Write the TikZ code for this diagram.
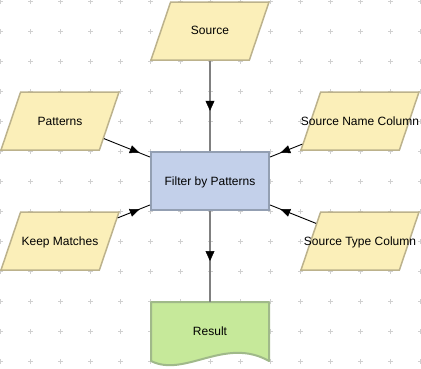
\documentclass[tikz,border=0pt]{standalone}
\usepackage{fontspec}
\setmainfont{Liberation Sans}
\usetikzlibrary{shapes.geometric,arrows.meta,decorations.markings}
\definecolor{inFill}{HTML}{FBEFB9}
\definecolor{inDraw}{HTML}{BCB28C}
\definecolor{opFill}{HTML}{C3D0EA}
\definecolor{opDraw}{HTML}{939FB2}
\definecolor{outFill}{HTML}{C6E99A}
\definecolor{outDraw}{HTML}{A0B98A}
\definecolor{gridc}{HTML}{D0D0D0}
\definecolor{flow}{HTML}{808080}
\begin{document}
\begin{tikzpicture}[x=1pt,y=-1pt,
  inshape/.style={trapezium, trapezium left angle=76, trapezium right angle=104,
    trapezium stretches=true, minimum width=118pt, minimum height=58pt,
    inner sep=2pt, fill=inFill, draw=inDraw, line width=1.5pt},
  opbox/.style={rectangle, minimum width=118pt, minimum height=58pt,
    fill=opFill, draw=opDraw, line width=2pt, inner sep=0pt,
    font=\fontsize{12pt}{14pt}\selectfont, text height=8.6pt, text depth=0pt},
  outbox/.style={rectangle, minimum width=118pt, minimum height=58pt, inner sep=0pt,
    font=\fontsize{12pt}{14pt}\selectfont, text height=8.6pt, text depth=0pt},
  txt/.style={font=\fontsize{12pt}{14pt}\selectfont, text=black, inner sep=0pt,
    text height=8.6pt, text depth=0pt},
  inarrow/.style={draw=black, line width=0.9pt, postaction={decorate},
    decoration={markings, mark=at position -11pt with
      {\arrow{Triangle[length=10pt,width=8pt,line width=0.5pt,color=black]}}}},
  flowarrow/.style={draw=flow, line width=2pt, postaction={decorate},
    decoration={markings, mark=at position 50pt with
      {\arrow{Triangle[length=10pt,width=9pt,line width=0.5pt,color=black]}}}},
]
\useasboundingbox (0,0) rectangle (421,368);
% grid of crosses
\foreach \i in {0,...,14}{
  \foreach \j in {0,...,12}{
    \draw[gridc, line width=1pt] (30*\i+0.5-2.5, 30*\j+1.5) -- (30*\i+0.5+2.5, 30*\j+1.5)
      (30*\i+0.5, 30*\j+1.5-2.5) -- (30*\i+0.5, 30*\j+1.5+2.5);
  }
}
% result document outline
\draw[fill=outFill, draw=outDraw, line width=2pt, line join=round]
  (151,302) -- (269,302) -- (269,361)
  .. controls (225,336) and (185,378) .. (151,361) -- cycle;
% nodes
\node[inshape] (src) at (210,31) {};
\node[txt] (src-t) at (210,30) {Source};
\node[inshape] (pat) at (60,121) {};
\node[txt] (pat-t) at (60,121) {Patterns};
\node[inshape] (keep) at (60,241) {};
\node[txt] (keep-t) at (60,241) {Keep Matches};
\node[inshape] (snc) at (360,121) {};
\node[txt] (snc-t) at (360,121) {Source Name Column};
\node[inshape] (stc) at (360,241) {};
\node[txt] (stc-t) at (360,241) {Source Type Column};
\node[opbox] (flt) at (210,181) {Filter by Patterns};
\node[outbox] (res) at (210,331) {Result};
% connectors
\draw[flowarrow] (src) -- (flt);
\draw[flowarrow] (flt) -- (res);
\draw[inarrow] (pat) -- (flt);
\draw[inarrow] (keep) -- (flt);
\draw[inarrow] (snc) -- (flt);
\draw[inarrow] (stc) -- (flt);
\end{tikzpicture}
\end{document}
